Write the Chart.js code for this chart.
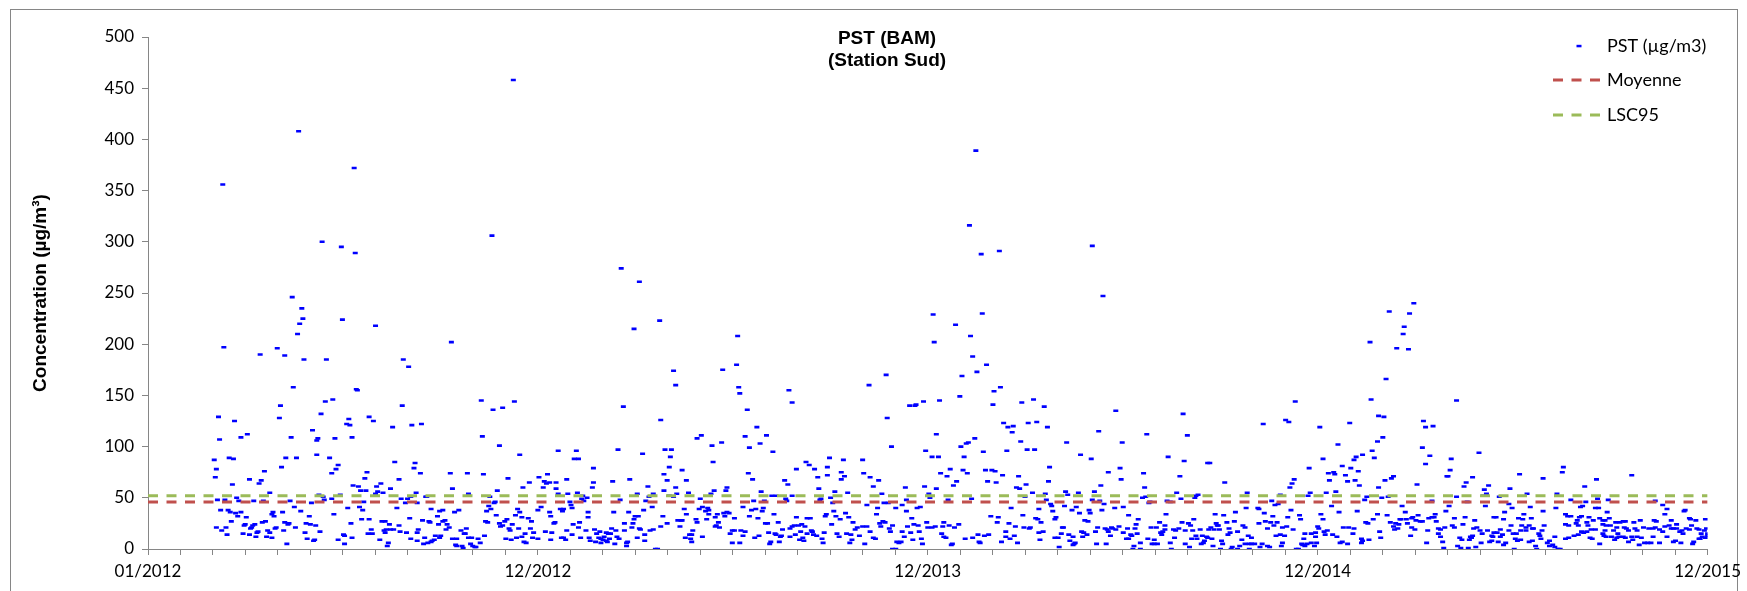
<!DOCTYPE html>
<html><head><meta charset="utf-8">
<script src="https://cdn.jsdelivr.net/npm/chart.js@4.4.1/dist/chart.umd.min.js"></script>
<style>html,body{margin:0;padding:0;background:#fff;}canvas{display:block;}</style>
</head><body>
<canvas id="c" width="1747" height="591"></canvas>
<script>
// ---- tick labels / reference values ----
const xTickLabels = ['01/2012', '12/2012', '12/2013', '12/2014', '12/2015'];
const daysPerMajor = 365;
const minorPerMajor = 12;
const yMax = 500, yStep = 50;
const moyenne = 46;
const lsc95 = 52;
const titleLines = ['PST (BAM)', '(Station Sud)'];
const seriesNames = ['PST (µg/m3)', 'Moyenne', 'LSC95'];
const yTitle = 'Concentration (µg/m³)';

// ---- PST daily values: [day since 01/01/2012, µg/m3] ----
const pstSpring2012 = [[70,356],[141,408],[193,372],[163,300],[181,295],[194,289],[135,246],[144,235],[145,225],[142,220],[140,210],[182,224],[71,197],[121,196],[105,190],[128,189],[146,185],[167,185],[136,158],[195,156],[196,155],[124,140],[166,144],[173,146],[162,132],[123,128],[66,129],[81,125],[188,127],[186,122],[189,121],[154,116],[93,112],[87,109],[67,107],[134,109],[159,108],[158,106],[175,108],[191,109],[158,92],[62,87],[76,89],[80,88],[129,89],[139,89],[170,89],[64,78],[125,80],[109,76],[178,82],[176,78],[172,74],[63,70],[95,68],[106,67],[104,64],[79,63],[205,75],[203,69],[192,62],[197,61],[199,57],[204,57],[114,55],[160,53],[180,53],[164,51],[165,48],[172,49],[65,48],[72,48],[85,47],[83,50],[99,47],[108,47],[133,47],[153,45],[202,46],[137,41],[143,37],[151,32],[187,40],[198,41],[201,38],[174,34],[200,29],[68,38],[75,38],[77,36],[82,35],[87,36],[84,32],[78,27],[92,31],[117,36],[118,32],[116,34],[126,36],[64,21],[73,21],[69,18],[74,14],[89,15],[90,23],[91,24],[97,21],[96,20],[98,23],[100,24],[95,14],[101,12],[102,16],[103,17],[107,26],[110,27],[112,18],[114,16],[111,12],[116,11],[119,20],[120,21],[127,18],[128,26],[132,25],[131,24],[138,21],[147,16],[148,25],[152,24],[157,23],[161,17],[149,10],[156,9],[155,8],[130,5],[178,9],[183,14],[184,13],[184,5],[191,11],[190,25],[206,15]];

const pstAutumn2012 = [[342,458],[322,306],[213,218],[284,202],[239,185],[244,178],[238,140],[312,145],[343,144],[323,136],[332,138],[207,129],[211,125],[229,119],[247,121],[256,122],[313,110],[329,101],[348,92],[231,85],[250,84],[249,79],[255,74],[283,74],[299,74],[314,73],[235,68],[337,69],[357,65],[351,60],[218,64],[214,61],[215,56],[220,55],[213,54],[227,59],[251,55],[285,59],[327,57],[300,54],[237,49],[243,49],[241,45],[246,51],[252,45],[260,51],[261,51],[320,51],[325,46],[324,45],[233,40],[265,39],[273,37],[276,38],[291,38],[287,36],[321,39],[317,37],[319,42],[316,27],[318,26],[326,33],[336,29],[334,27],[344,33],[346,39],[348,36],[350,31],[356,30],[359,27],[207,29],[219,27],[222,27],[235,23],[226,24],[227,19],[230,19],[221,18],[223,19],[222,16],[209,19],[210,15],[236,17],[242,16],[245,30],[257,28],[263,27],[264,26],[271,32],[272,24],[276,27],[278,28],[280,24],[282,21],[279,19],[293,18],[296,15],[297,15],[298,20],[253,19],[252,16],[246,10],[252,8],[259,11],[258,5],[262,6],[265,7],[266,8],[268,9],[269,13],[274,13],[273,11],[285,10],[289,10],[288,4],[289,3],[294,3],[295,1],[300,11],[303,11],[302,5],[304,3],[306,2],[307,2],[309,10],[311,6],[315,13],[217,9],[225,6],[224,3],[335,10],[340,9],[345,11],[350,12],[352,7],[354,6],[353,15],[358,20],[360,11],[338,20],[339,18],[332,23],[330,22],[329,25],[341,24],[347,20],[361,16]];

const pstSpring2013 = [[443,274],[460,261],[479,223],[455,215],[492,174],[494,160],[445,139],[480,126],[518,111],[514,108],[384,96],[401,96],[440,97],[484,97],[490,97],[463,93],[489,90],[399,88],[403,88],[417,79],[488,80],[500,77],[374,73],[392,68],[451,68],[483,73],[366,70],[371,66],[373,64],[376,65],[370,60],[382,65],[417,65],[435,66],[486,67],[504,67],[382,59],[416,60],[468,61],[494,60],[483,57],[384,54],[393,54],[402,55],[407,52],[411,50],[406,49],[408,47],[395,46],[396,43],[397,40],[458,54],[473,54],[469,51],[466,47],[495,54],[506,55],[488,52],[492,51],[442,48],[517,49],[519,41],[516,39],[365,38],[368,41],[386,39],[388,37],[389,39],[376,36],[377,32],[412,36],[436,36],[450,36],[464,38],[472,41],[412,31],[455,29],[456,32],[459,32],[482,32],[502,39],[504,34],[496,28],[499,28],[500,28],[381,26],[380,25],[398,24],[404,26],[446,25],[454,25],[486,25],[513,29],[514,26],[480,22],[498,22],[372,17],[378,16],[392,18],[403,21],[410,18],[418,19],[423,17],[420,15],[429,16],[431,15],[433,15],[434,20],[438,18],[446,18],[453,21],[460,20],[461,19],[470,18],[473,19],[510,18],[507,14],[509,14],[397,14],[405,11],[413,11],[422,11],[424,10],[426,9],[427,12],[441,10],[439,12],[432,10],[414,8],[419,7],[424,6],[429,8],[430,7],[437,5],[448,6],[449,7],[448,3],[465,14],[458,11],[465,8],[475,0],[477,0],[503,11],[508,10],[509,7],[519,12],[377,9],[387,11],[389,11],[391,9],[365,10]];

const pstSummer2013 = [[552,208],[551,180],[538,175],[553,158],[554,152],[561,136],[600,155],[603,143],[675,160],[570,119],[559,110],[579,111],[573,103],[563,99],[537,104],[528,101],[585,95],[529,85],[562,74],[566,68],[607,78],[616,85],[619,82],[624,78],[638,89],[636,80],[636,72],[627,70],[651,87],[649,75],[652,71],[649,68],[669,87],[670,74],[676,70],[596,67],[599,63],[628,59],[542,60],[541,57],[530,57],[527,54],[574,56],[584,52],[588,52],[603,52],[597,49],[598,47],[643,56],[655,55],[673,43],[567,47],[577,47],[629,48],[630,49],[639,50],[641,45],[524,40],[525,38],[522,37],[525,34],[523,29],[533,34],[531,31],[539,35],[540,32],[544,35],[542,36],[557,41],[563,32],[565,38],[569,39],[571,30],[575,37],[576,40],[586,34],[549,30],[607,31],[617,30],[620,30],[634,32],[635,34],[642,37],[644,32],[648,29],[653,35],[656,31],[532,23],[535,21],[531,22],[534,26],[547,18],[549,18],[545,15],[555,18],[559,17],[557,13],[578,25],[580,25],[590,26],[594,19],[581,16],[587,15],[588,14],[592,12],[593,13],[572,13],[568,11],[601,20],[603,22],[605,23],[609,23],[612,24],[611,17],[615,22],[621,18],[622,17],[606,14],[601,12],[610,9],[613,11],[614,8],[617,15],[623,14],[626,13],[633,16],[631,10],[632,6],[640,24],[645,15],[647,12],[654,15],[658,14],[659,9],[657,6],[660,26],[664,21],[662,19],[666,13],[669,22],[673,22],[671,5],[676,17],[547,6],[554,6],[582,5],[583,7],[591,7]];

const pstWinter2014 = [[775,389],[769,316],[780,288],[797,291],[781,230],[735,229],[756,219],[770,208],[736,202],[772,188],[785,180],[776,173],[691,170],[762,169],[798,158],[792,154],[760,149],[692,128],[741,145],[726,144],[713,140],[718,140],[719,141],[829,146],[818,143],[791,141],[738,112],[801,123],[805,119],[810,120],[809,114],[824,123],[832,124],[696,100],[728,96],[734,90],[740,90],[761,100],[764,90],[766,103],[768,104],[774,108],[782,95],[804,96],[817,105],[823,97],[830,97],[742,74],[751,78],[748,71],[763,77],[767,74],[784,77],[790,77],[793,76],[800,72],[815,71],[684,67],[709,60],[727,61],[738,59],[754,62],[757,66],[786,66],[794,65],[813,60],[816,59],[822,63],[679,61],[687,54],[828,55],[731,54],[732,50],[749,48],[771,49],[821,51],[689,45],[693,45],[710,48],[706,43],[720,40],[723,41],[683,40],[700,40],[710,37],[808,40],[834,39],[682,34],[715,30],[789,32],[796,31],[819,33],[831,30],[833,29],[685,25],[686,22],[688,27],[690,26],[694,20],[697,23],[711,22],[717,24],[721,23],[729,26],[730,21],[734,21],[737,22],[744,22],[745,26],[750,23],[755,21],[759,24],[795,26],[806,25],[812,22],[820,21],[825,20],[826,21],[706,17],[714,16],[722,17],[695,17],[743,15],[745,12],[747,11],[708,12],[716,9],[724,10],[725,5],[679,11],[681,10],[697,0],[700,0],[701,7],[703,6],[705,7],[752,4],[753,5],[765,10],[772,11],[777,14],[778,7],[779,6],[783,13],[787,14],[799,7],[803,12],[803,17],[807,10],[811,13],[814,6],[834,16],[835,9]];

const pstSummer2014 = [[884,296],[894,247],[839,139],[906,135],[969,132],[842,119],[890,115],[935,112],[973,111],[860,104],[912,104],[873,92],[883,88],[955,90],[970,86],[992,84],[844,80],[910,79],[899,75],[932,74],[966,71],[843,66],[911,68],[892,62],[933,60],[840,54],[859,56],[861,53],[871,55],[886,56],[963,55],[983,53],[981,52],[841,48],[884,48],[891,47],[931,50],[934,51],[938,46],[937,45],[954,47],[957,46],[967,49],[980,50],[845,44],[846,42],[858,42],[869,41],[865,38],[881,38],[895,44],[893,38],[905,40],[913,41],[847,37],[872,35],[882,35],[953,34],[918,33],[850,31],[849,29],[979,29],[877,28],[880,27],[927,29],[925,24],[947,26],[952,23],[974,25],[976,23],[836,26],[838,17],[856,21],[857,21],[855,15],[862,14],[866,12],[849,11],[852,11],[863,8],[867,5],[868,6],[866,4],[853,2],[874,17],[876,16],[879,14],[875,12],[887,17],[888,5],[889,21],[896,20],[898,19],[899,17],[902,21],[903,20],[906,19],[909,22],[901,13],[897,5],[913,16],[916,10],[918,10],[917,20],[920,14],[921,13],[924,20],[926,15],[923,3],[922,0],[929,6],[929,0],[936,10],[939,21],[940,5],[942,5],[942,9],[944,21],[945,5],[948,16],[950,17],[949,14],[952,19],[957,6],[958,0],[961,11],[960,19],[962,18],[965,20],[968,26],[971,18],[971,5],[975,2],[977,10],[978,18],[981,13],[982,10],[985,19],[986,5],[988,6],[989,8],[987,13],[991,12],[992,11]];

const pstWinter2015 = [[1144,202],[1145,146],[1074,144],[1044,122],[1065,126],[1068,124],[1097,119],[1125,123],[1114,102],[1146,96],[1148,89],[1137,92],[1129,87],[1131,90],[1100,88],[1087,79],[1118,81],[1126,79],[1133,76],[1105,74],[1110,75],[1111,73],[1106,67],[1121,72],[1123,66],[1130,67],[1134,62],[1073,68],[1071,64],[1069,60],[1008,65],[994,84],[1029,55],[1060,53],[1088,55],[1103,55],[1112,56],[1141,51],[1139,48],[1086,52],[1052,47],[1058,44],[1055,43],[1108,42],[1039,40],[1040,39],[1028,40],[1070,38],[1115,36],[1132,37],[1018,36],[1045,35],[999,34],[1007,33],[1078,33],[1053,32],[1067,31],[1079,29],[1098,34],[1100,29],[1147,29],[995,21],[998,19],[993,19],[1000,25],[1001,23],[1002,23],[1003,19],[1010,26],[1012,20],[1013,16],[1011,14],[1017,27],[1020,17],[1025,23],[1027,21],[1024,9],[1030,13],[1033,11],[1040,25],[1046,27],[1051,26],[1048,20],[1054,23],[1057,26],[1056,13],[1060,14],[1062,21],[1064,13],[1066,22],[1072,19],[1082,10],[1083,15],[1089,15],[1093,16],[1093,12],[1095,22],[1096,20],[1101,17],[1104,18],[1102,14],[1109,14],[1113,12],[1119,21],[1124,21],[1129,20],[1128,15],[1136,10],[1137,8],[1140,26],[1142,25],[1143,9],[996,10],[1005,8],[1006,5],[997,3],[1004,0],[1014,0],[1015,2],[1020,0],[1022,3],[1027,5],[1031,5],[1033,5],[1036,5],[1031,0],[1041,2],[1043,5],[1048,3],[1050,2],[1061,3],[1062,6],[1075,0],[1077,0],[1080,5],[1081,4],[1083,3],[1085,5],[1089,6],[1092,3],[1094,6],[1116,6],[1118,7],[1123,5],[1136,6]];

const pstSpring2015 = [[1185,240],[1162,232],[1181,230],[1176,217],[1175,210],[1169,196],[1180,195],[1159,166],[1225,145],[1152,130],[1157,129],[1194,125],[1196,119],[1203,120],[1156,109],[1151,105],[1193,99],[1200,91],[1246,94],[1196,83],[1220,88],[1219,77],[1158,67],[1164,69],[1166,71],[1216,71],[1217,71],[1240,70],[1284,73],[1306,69],[1188,63],[1234,65],[1232,61],[1255,62],[1251,58],[1275,59],[1152,60],[1253,54],[1291,54],[1155,50],[1161,51],[1225,51],[1250,52],[1265,51],[1202,47],[1235,46],[1274,44],[1277,40],[1174,42],[1218,42],[1252,42],[1294,41],[1306,37],[1177,36],[1215,37],[1270,36],[1288,34],[1151,34],[1160,33],[1189,33],[1205,34],[1223,30],[1233,31],[1199,30],[1202,31],[1204,31],[1172,29],[1173,29],[1178,29],[1183,30],[1184,31],[1187,28],[1191,27],[1193,27],[1260,31],[1262,31],[1269,29],[1242,28],[1283,30],[1287,29],[1295,30],[1163,26],[1166,22],[1168,25],[1171,24],[1167,19],[1170,20],[1179,25],[1183,21],[1186,19],[1198,18],[1206,27],[1208,20],[1210,19],[1208,15],[1210,12],[1214,21],[1221,23],[1223,21],[1231,24],[1238,12],[1240,13],[1241,20],[1244,21],[1247,18],[1249,15],[1254,18],[1258,13],[1259,12],[1260,16],[1263,16],[1266,19],[1268,14],[1274,18],[1276,23],[1278,15],[1281,15],[1280,10],[1282,8],[1285,18],[1286,23],[1290,21],[1290,18],[1293,23],[1296,20],[1297,20],[1302,15],[1303,13],[1305,18],[1307,23],[1153,17],[1154,11],[1182,13],[1197,6],[1212,7],[1213,1],[1226,3],[1228,11],[1230,9],[1229,1],[1236,1],[1237,9],[1239,11],[1243,2],[1248,6],[1256,7],[1258,8],[1264,7],[1266,12],[1269,4],[1271,6],[1279,0],[1285,9],[1293,7],[1296,8],[1299,3],[1300,0],[1304,10]];

const pstAutumn2015 = [[1325,80],[1324,75],[1389,72],[1356,68],[1345,61],[1319,54],[1346,46],[1357,49],[1367,48],[1332,48],[1411,47],[1341,41],[1343,42],[1318,40],[1355,40],[1358,40],[1418,43],[1422,39],[1439,38],[1438,37],[1366,36],[1327,34],[1420,34],[1329,32],[1332,32],[1340,31],[1342,32],[1349,31],[1347,26],[1359,30],[1368,30],[1338,28],[1353,28],[1362,28],[1364,28],[1374,26],[1378,26],[1381,27],[1383,27],[1391,26],[1397,28],[1410,28],[1412,27],[1426,28],[1431,24],[1443,30],[1444,29],[1449,28],[1458,29],[1317,12],[1327,24],[1330,23],[1337,25],[1339,23],[1348,23],[1351,19],[1355,19],[1362,24],[1365,23],[1364,18],[1362,15],[1369,23],[1372,18],[1375,21],[1382,21],[1376,15],[1384,20],[1386,18],[1392,20],[1394,18],[1400,21],[1405,20],[1409,20],[1411,21],[1415,19],[1418,17],[1420,22],[1424,23],[1426,20],[1428,20],[1431,20],[1434,17],[1436,18],[1440,20],[1443,19],[1445,23],[1450,20],[1452,19],[1454,15],[1457,18],[1460,15],[1459,20],[1455,12],[1458,11],[1460,13],[1310,6],[1312,3],[1315,4],[1317,2],[1320,0],[1322,0],[1312,8],[1327,10],[1330,11],[1335,13],[1339,14],[1342,17],[1344,16],[1347,17],[1350,11],[1352,10],[1359,5],[1363,13],[1365,12],[1370,12],[1373,9],[1375,11],[1377,12],[1381,12],[1383,11],[1386,7],[1389,12],[1390,9],[1394,12],[1396,4],[1398,11],[1401,6],[1404,6],[1407,6],[1409,12],[1415,6],[1422,12],[1428,7],[1430,8],[1435,6],[1437,15],[1446,5],[1447,7],[1452,10],[1453,10]];

const pstAll = [].concat(pstSpring2012, pstAutumn2012, pstSpring2013, pstSummer2013,
  pstWinter2014, pstSummer2014, pstWinter2015, pstSpring2015, pstAutumn2015);
const xMax = daysPerMajor * (xTickLabels.length - 1);

const BLUE = '#0000ff', RED = '#c0504d', GREEN = '#9bbb59', AXIS = '#868686';
const FONT_TICK = {family: 'Lato, "Liberation Sans", sans-serif', size: 17};

const overlay = {
  id: 'overlay',
  beforeDraw(chart) {
    const ctx = chart.ctx;
    ctx.save();
    ctx.fillStyle = '#fff';
    ctx.fillRect(0, 0, chart.width, chart.height);
    ctx.strokeStyle = AXIS;
    ctx.lineWidth = 1;
    ctx.strokeRect(10.5, 9.5, 1727, 590);
    ctx.restore();
  },
  afterDraw(chart) {
    const ctx = chart.ctx;
    ctx.save();
    // title
    ctx.fillStyle = '#000';
    ctx.font = 'bold 19px "Liberation Sans", Arial, sans-serif';
    ctx.textAlign = 'center';
    ctx.textBaseline = 'alphabetic';
    ctx.fillText(titleLines[0], 887, 44);
    ctx.fillText(titleLines[1], 887, 66);
    // legend
    ctx.font = '18px Lato, "Liberation Sans", sans-serif';
    ctx.textAlign = 'left';
    ctx.textBaseline = 'middle';
    const lx = 1607;
    const rows = [46, 80, 115];
    ctx.fillStyle = BLUE;
    ctx.fillRect(1576.5, rows[0] - 1.2, 5, 2.5);
    [[RED, rows[1]], [GREEN, rows[2]]].forEach(([c, y]) => {
      ctx.strokeStyle = c; ctx.lineWidth = 3; ctx.setLineDash([10, 8.5]);
      ctx.beginPath(); ctx.moveTo(1553, y); ctx.lineTo(1602, y); ctx.stroke();
    });
    ctx.setLineDash([]);
    ctx.fillStyle = '#000';
    seriesNames.forEach((n, i) => ctx.fillText(n, lx, rows[i]));
    ctx.restore();
  }
};

new Chart(document.getElementById('c'), {
  type: 'scatter',
  data: {
    datasets: [
      {label: seriesNames[1], type: 'line', order: 0,
       data: [{x: 0, y: moyenne}, {x: xMax, y: moyenne}],
       borderColor: RED, borderWidth: 3, borderDash: [10, 8.5], pointRadius: 0, fill: false},
      {label: seriesNames[2], type: 'line', order: 0,
       data: [{x: 0, y: lsc95}, {x: xMax, y: lsc95}],
       borderColor: GREEN, borderWidth: 3, borderDash: [10, 8.5], pointRadius: 0, fill: false},
      {label: seriesNames[0], order: 1,
       data: pstAll.map(([d, v]) => ({x: d, y: v})),
       pointStyle: 'line', pointRadius: 2.5, borderWidth: 2.6,
       borderColor: BLUE, backgroundColor: BLUE}
    ]
  },
  options: {
    responsive: false,
    animation: false,
    events: [],
    devicePixelRatio: 1,
    layout: {padding: {top: 37, right: 37, bottom: 0, left: 0}},
    plugins: {legend: {display: false}, tooltip: {enabled: false}, title: {display: false}},
    scales: {
      x: {
        type: 'linear', min: 0, max: xMax,
        afterBuildTicks(scale) {
          const n = (xTickLabels.length - 1) * minorPerMajor;
          scale.ticks = Array.from({length: n + 1}, (_, i) => ({value: i * daysPerMajor / minorPerMajor}));
        },
        afterFit(scale) { scale.height = 42; },
        grid: {drawOnChartArea: false, drawTicks: true, tickLength: 6, color: AXIS},
        border: {display: true, color: AXIS, width: 1},
        ticks: {
          autoSkip: false, maxRotation: 0, minRotation: 0, padding: 6,
          color: '#000', font: FONT_TICK,
          callback: (v, i) => (i % minorPerMajor === 0 ? xTickLabels[i / minorPerMajor] : '')
        }
      },
      y: {
        min: 0, max: yMax,
        afterFit(scale) { scale.width = 148; },
        grid: {drawOnChartArea: false, drawTicks: true, tickLength: 6, color: AXIS},
        border: {display: true, color: AXIS, width: 1},
        ticks: {stepSize: yStep, color: '#000', font: FONT_TICK, padding: 8},
        title: {display: true, text: yTitle, color: '#000',
                font: {family: '"Liberation Sans", Arial, sans-serif', size: 19, weight: 'bold'},
                padding: {top: 29, bottom: 0}}
      }
    }
  },
  plugins: [overlay]
});
</script>
</body></html>
